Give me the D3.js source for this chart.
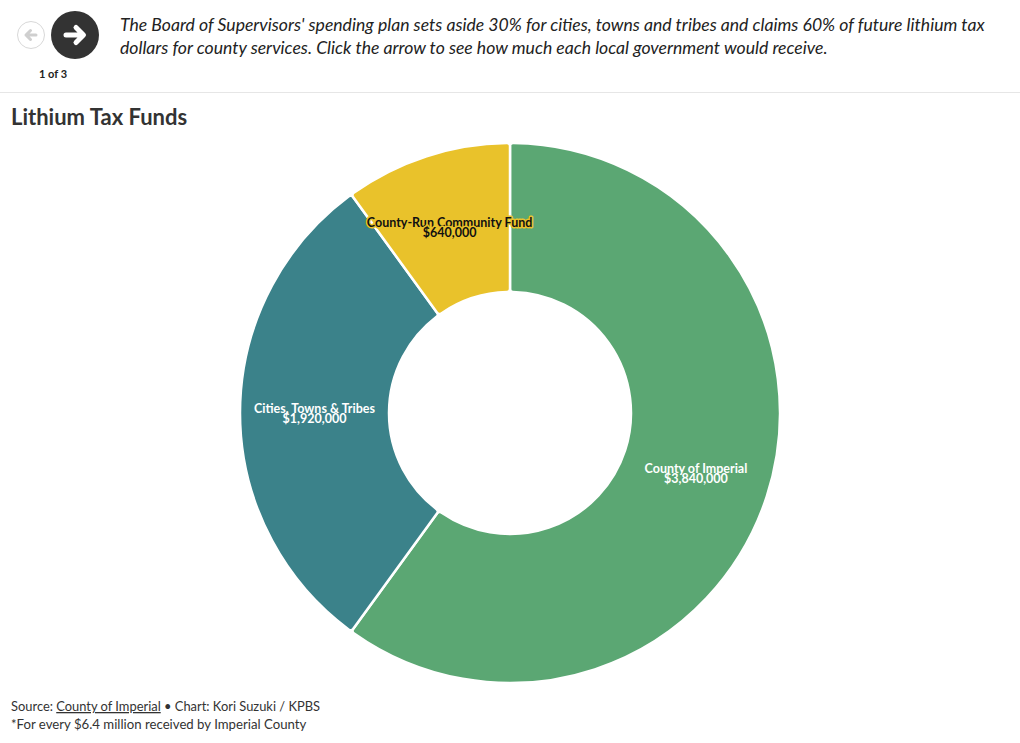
<!DOCTYPE html>
<html>
<head>
<meta charset="utf-8">
<script src="https://cdn.jsdelivr.net/npm/d3@7"></script>
<style>
  html, body { margin: 0; padding: 0; background: #fff; }
  svg { display: block; font-family: Lato, "Open Sans", sans-serif; }
</style>
</head>
<body>
<svg id="chart" width="1020" height="743"></svg>
<script>
const categories = ["County of Imperial", "Cities, Towns & Tribes", "County-Run Community Fund"];
const values = [3840000, 1920000, 640000];
const colors = ["#5ba773", "#3b828a", "#e9c22b"];
const labelColors = ["#ffffff", "#ffffff", "#111111"];
const introLines = [
  "The Board of Supervisors' spending plan sets aside 30% for cities, towns and tribes and claims 60% of future lithium tax",
  "dollars for county services. Click the arrow to see how much each local government would receive."
];
const title = "Lithium Tax Funds";
const stepLabel = "1 of 3";

const svg = d3.select("#chart");
const fmt = d3.format("$,");

// Header: navigation buttons
const nav = svg.append("g");
nav.append("circle").attr("cx", 31).attr("cy", 35).attr("r", 13.5)
  .attr("fill", "#fff").attr("stroke", "#d8d8d8").attr("stroke-width", 1);
nav.append("path").attr("d", "M36,35 H26 M30.5,30.5 L26,35 L30.5,39.5")
  .attr("fill", "none").attr("stroke", "#cfcfcf").attr("stroke-width", 3)
  .attr("stroke-linecap", "round").attr("stroke-linejoin", "round");
nav.append("circle").attr("cx", 75).attr("cy", 35).attr("r", 24).attr("fill", "#333333");
nav.append("path").attr("d", "M66,35 H83 M76,27.5 L83.5,35 L76,42.5")
  .attr("fill", "none").attr("stroke", "#ffffff").attr("stroke-width", 5)
  .attr("stroke-linecap", "round").attr("stroke-linejoin", "round");
nav.append("text").attr("x", 53).attr("y", 78).attr("text-anchor", "middle")
  .attr("font-size", 11).attr("font-weight", 700).attr("fill", "#222").text(stepLabel);

// Intro text
const intro = svg.append("text").attr("font-size", 17.6).attr("font-style", "italic").attr("fill", "#222");
introLines.forEach((l, i) => {
  intro.append("tspan").attr("x", 120).attr("y", 31 + i * 23).text(l);
});

// Divider
svg.append("line").attr("x1", 0).attr("x2", 1020).attr("y1", 92.5).attr("y2", 92.5)
  .attr("stroke", "#e6e6e6").attr("stroke-width", 1);

// Title
svg.append("text").attr("x", 11).attr("y", 125).attr("font-size", 22).attr("font-weight", 700)
  .attr("fill", "#333").text(title);

// Donut
const cx = 510, cy = 413, outerR = 270, innerR = 121;
const data = categories.map((c, i) => ({ name: c, value: values[i], color: colors[i], lc: labelColors[i] }));
const pie = d3.pie().value(d => d.value).sort(null);
const arc = d3.arc().innerRadius(innerR).outerRadius(outerR).cornerRadius(3);
const labelArc = d3.arc().innerRadius(innerR).outerRadius(outerR);
const arcs = pie(data);
const g = svg.append("g").attr("transform", `translate(${cx},${cy})`);
g.selectAll("path").data(arcs).join("path")
  .attr("d", arc).attr("fill", d => d.data.color)
  .attr("stroke", "#fff").attr("stroke-width", 2.5);

const lab = g.selectAll("g.lab").data(arcs).join("g").attr("class", "lab")
  .attr("transform", d => `translate(${labelArc.centroid(d)})`);
lab.each(function(d) {
  const sel = d3.select(this);
  const t = sel.append("text").attr("text-anchor", "middle").attr("font-size", 12.5)
    .attr("font-weight", 700).attr("fill", d.data.lc);
  if (d.data.lc !== "#ffffff") {
    t.attr("stroke", d.data.color).attr("stroke-width", 3).attr("paint-order", "stroke")
      .attr("stroke-linejoin", "round");
  }
  t.append("tspan").attr("x", 0).attr("y", 0).text(d.data.name);
  t.append("tspan").attr("x", 0).attr("y", 10).text(fmt(d.data.value));
});

// Footer
const f1 = svg.append("text").attr("x", 11).attr("y", 711).attr("font-size", 12.9).attr("fill", "#333");
f1.append("tspan").text("Source: ");
f1.append("tspan").attr("text-decoration", "underline").text("County of Imperial");
f1.append("tspan").text(" • Chart: Kori Suzuki / KPBS");
svg.append("text").attr("x", 11).attr("y", 729).attr("font-size", 13.2).attr("fill", "#333")
  .text("*For every $6.4 million received by Imperial County");
</script>
</body>
</html>
